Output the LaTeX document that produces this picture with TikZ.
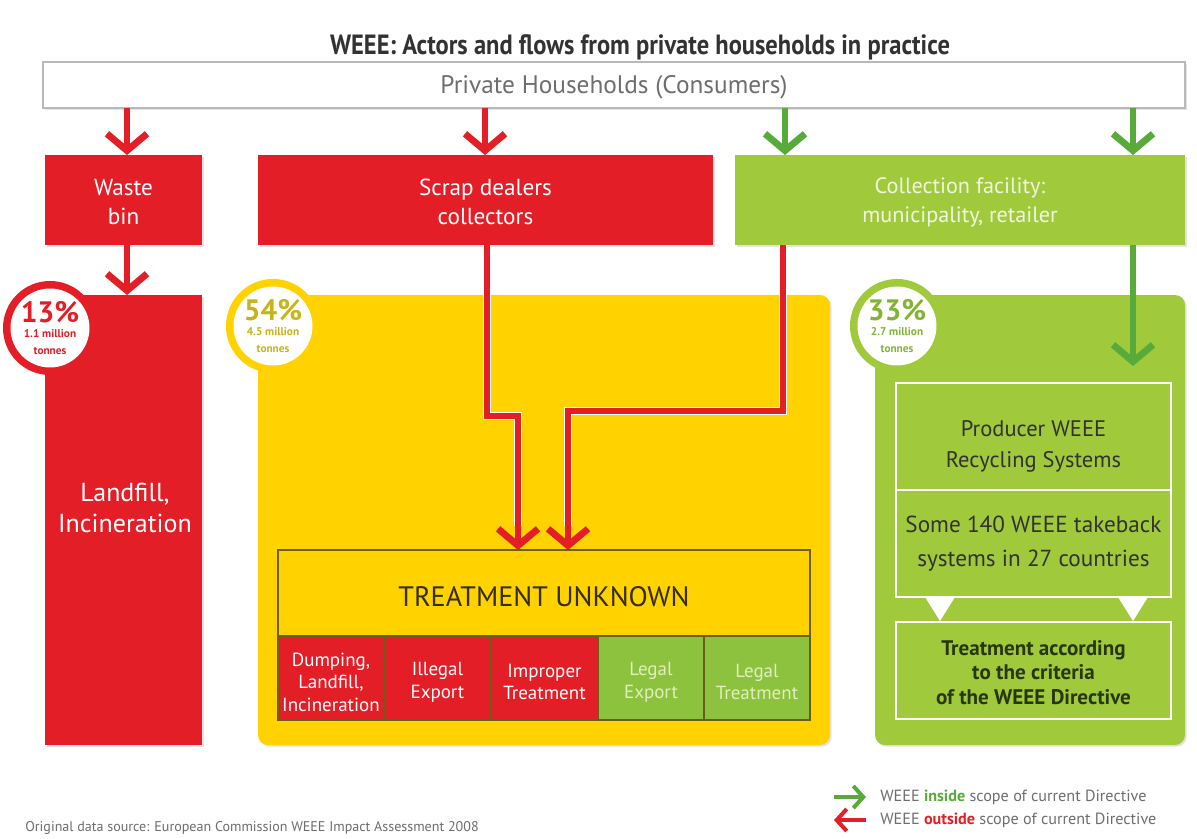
\documentclass[tikz,border=0pt]{standalone}
\usepackage{fontspec}
\setmainfont{PT Sans}
\newfontfamily\titlefont[FakeStretch=0.88]{PT Sans}
\usetikzlibrary{arrows.meta,fit,shadows}
\definecolor{myred}{RGB}{228,30,38}
\definecolor{myyellow}{RGB}{255,210,0}
\definecolor{mygreen}{RGB}{160,202,60}
\definecolor{cellgreen}{RGB}{140,194,62}
\definecolor{arrgreen}{RGB}{88,170,58}
\definecolor{olive}{RGB}{105,95,25}
\definecolor{darktext}{RGB}{50,50,50}
\definecolor{graytext}{RGB}{110,110,110}
\definecolor{pcyellow}{RGB}{200,180,20}
\definecolor{pcgreen}{RGB}{130,180,50}
\definecolor{lightgtext}{RGB}{225,238,190}
\definecolor{lightctext}{RGB}{240,246,225}
\newcommand{\fsz}[2]{\fontsize{#1}{#2}\selectfont}
\begin{document}
\begin{tikzpicture}[x=0.025cm,y=-0.025cm,
  shad/.style={drop shadow={shadow xshift=1.2pt,shadow yshift=-1.2pt,opacity=.22}},
  boxfit/.style={inner sep=0pt,outer sep=0pt},
  txt/.style={align=center,inner sep=0pt},
  redbox/.style={boxfit,fill=myred,shad},
  greenbox/.style={boxfit,fill=mygreen,shad},
  redarrow/.style={draw=myred,line width=0.15cm,-{Straight Barb[length=0.42cm,width=1.0cm,line width=0.17cm]}},
  greenarrow/.style={draw=arrgreen,line width=0.15cm,-{Straight Barb[length=0.42cm,width=1.0cm,line width=0.17cm]}},
  legarrow/.style={line width=0.09cm,-{Straight Barb[length=0.25cm,width=0.55cm,line width=0.1cm]}},
  cellred/.style={boxfit,fill=myred,draw=olive,line width=0.04cm},
  cellgr/.style={boxfit,fill=cellgreen,draw=olive,line width=0.04cm},
  wbox/.style={boxfit,draw=white,line width=0.06cm},
  celltxt/.style={txt,font=\fsz{13.5}{16}},
]
\useasboundingbox (0,0) rectangle (1197,838);
\fill[white] (0,0) rectangle (1197,838);

% title
\node[text=darktext,font=\titlefont\bfseries\fsz{19.8}{22}] (title) at (640,47) {WEEE: Actors and flows from private households in practice};

% households
\node[boxfit,fill=white,draw=gray!55,line width=0.04cm,shad,fit={(43,62)(1185,108)}] (hh) {};
\node[txt,text=graytext,font=\fsz{18}{20}] (hht) at ([yshift=-0.05cm]hh.center) {Private Households (Consumers)};

% second row
\node[redbox,fit={(45,155)(202,245)}] (waste) {};
\node[txt,text=white,font=\fsz{16.5}{20.5}] (wastet) at ([yshift=-0.05cm]waste.center) {Waste\\bin};
\node[redbox,fit={(258,155)(713,245)}] (scrap) {};
\node[txt,text=white,font=\fsz{16.5}{20.5}] (scrapt) at ([yshift=-0.05cm]scrap.center) {Scrap dealers\\collectors};
\node[greenbox,fit={(735,155)(1185,245)}] (coll) {};
\node[txt,text=lightctext,font=\fsz{15.8}{20.5}] (collt) at ([yshift=-0.05cm]coll.center) {Collection facility:\\municipality, retailer};

% big boxes
\node[redbox,fit={(45,295)(202,745)}] (land) {};
\node[boxfit,fill=myyellow,rounded corners=0.25cm,shad,fit={(258,295)(830,745)}] (yel) {};
\node[greenbox,rounded corners=0.25cm,fit={(875,295)(1185,745)}] (grn) {};
\node[txt,text=white,font=\fsz{18.5}{21.5}] (landtxt) at (125,508) {Landfill,\\Incineration};

% circles
\node[circle,fill=myred,minimum size=2.35cm,inner sep=0pt] (c13) at (50,328) {};
\node[circle,fill=white,minimum size=1.8cm,inner sep=0pt,align=center,text=myred] (c13t) at (c13) {{\bfseries\fsz{21}{19}13\%}\\[-1pt]{\bfseries\fsz{8}{8}1.1 million}\\{\bfseries\fsz{8}{8}tonnes}};
\node[circle,fill=myyellow,minimum size=2.35cm,inner sep=0pt] (c54) at (273,326) {};
\node[circle,fill=white,minimum size=1.8cm,inner sep=0pt,align=center,text=pcyellow] (c54t) at (c54) {{\bfseries\fsz{21}{19}54\%}\\[-1pt]{\bfseries\fsz{8}{8}4.5 million}\\{\bfseries\fsz{8}{8}tonnes}};
\node[circle,fill=mygreen,minimum size=2.35cm,inner sep=0pt] (c33) at (897,326) {};
\node[circle,fill=white,minimum size=1.8cm,inner sep=0pt,align=center,text=pcgreen] (c33t) at (c33) {{\bfseries\fsz{21}{19}33\%}\\[-1pt]{\bfseries\fsz{8}{8}2.7 million}\\{\bfseries\fsz{8}{8}tonnes}};

% treatment unknown
\node[boxfit,fill=myyellow,draw=olive,line width=0.04cm,fit={(278,550)(810,636)}] (tu) {};
\node[txt,text={rgb,255:red,55;green,45;blue,0},font=\fsz{20}{22}] (tut) at ([yshift=-0.08cm]tu.center) {TREATMENT UNKNOWN};
\node[cellred,fit={(278,636)(384,720)}] (k1) {};
\node[cellred,fit={(384,636)(491,720)}] (k2) {};
\node[cellred,fit={(491,636)(598,720)}] (k3) {};
\node[cellgr,fit={(598,636)(704,720)}] (k4) {};
\node[cellgr,fit={(704,636)(810,720)}] (k5) {};
\node[celltxt,text=white] (k1t) at ([yshift=-0.1cm]k1.center) {Dumping,\\Landfill,\\Incineration};
\node[celltxt,text=white] (k2t) at ([yshift=-0.1cm]k2.center) {Illegal\\Export};
\node[celltxt,text=white] (k3t) at ([yshift=-0.1cm]k3.center) {Improper\\Treatment};
\node[celltxt,text=lightgtext] (k4t) at ([yshift=-0.1cm]k4.center) {Legal\\Export};
\node[celltxt,text=lightgtext] (k5t) at ([yshift=-0.1cm]k5.center) {Legal\\Treatment};

% green internals
\node[wbox,fit={(896,383)(1171,490)}] (prod) {};
\node[txt,text=darktext,font=\fsz{16}{21.5}] (prodt) at ([yshift=-0.25cm]prod.center) {Producer WEEE\\Recycling Systems};
\node[wbox,fit={(896,490)(1171,597)}] (some) {};
\node[txt,text=darktext,font=\fsz{16.5}{24}] (somet) at (some.center) {Some 140 WEEE takeback\\systems in 27 countries};
\node[wbox,fit={(896,622)(1171,719)}] (crit) {};
\node[txt,text={rgb,255:red,40;green,55;blue,15},font=\bfseries\fsz{15}{17.4}] (critt) at ([yshift=-0.05cm]crit.center) {Treatment according\\to the criteria\\of the WEEE Directive};
\fill[white] (925,597) -- (955,597) -- (940,621) -- cycle;
\fill[white] (1118,597) -- (1148,597) -- (1133,621) -- cycle;

% arrows from households
\coordinate (x1) at (127,0);
\coordinate (x2) at (485,0);
\coordinate (x3) at (785,0);
\coordinate (x4) at (1133,0);
\draw[redarrow] (hh.south -| x1) -- (waste.north -| x1);
\draw[redarrow] (hh.south -| x2) -- (scrap.north -| x2);
\draw[greenarrow] (hh.south -| x3) -- (coll.north -| x3);
\draw[greenarrow] (hh.south -| x4) -- (coll.north -| x4);
\draw[redarrow] (waste.south -| x1) -- (land.north -| x1);

% flows into treatment unknown
\coordinate (b1) at (487,416);
\coordinate (b2) at (518,416);
\coordinate (b3) at (783,411);
\coordinate (b4) at (568,411);
\draw[white,line width=0.19cm,line join=miter] (scrap.south -| b1) -- (b1) -- (b2) -- ([yshift=0.6cm]b2 |- tu.north);
\draw[white,line width=0.19cm,line join=miter] (coll.south -| b3) -- (b3) -- (b4) -- ([yshift=0.6cm]b4 |- tu.north);
\draw[redarrow,line join=miter] (scrap.south -| b1) -- (b1) -- (b2) -- (b2 |- tu.north);
\draw[redarrow,line join=miter] (coll.south -| b3) -- (b3) -- (b4) -- (b4 |- tu.north);

% green arrow into recycling systems
\coordinate (g2) at (1133,366);
\draw[greenarrow] (coll.south -| g2) -- (g2);

% legend
\coordinate (l1a) at (834,797);
\coordinate (l1b) at (866,797);
\coordinate (l2a) at (866,820);
\coordinate (l2b) at (834,820);
\draw[legarrow,draw=arrgreen] (l1a) -- (l1b);
\draw[legarrow,draw=myred] (l2a) -- (l2b);
\node[anchor=west,text=graytext,font=\fsz{11.5}{12},inner sep=0pt] (leg1) at (880,797) {WEEE {\bfseries\color{arrgreen}inside} scope of current Directive};
\node[anchor=west,text=graytext,font=\fsz{11.5}{12},inner sep=0pt] (leg2) at (880,820) {WEEE {\bfseries\color{myred}outside} scope of current Directive};

% footer
\node[anchor=west,text=graytext,font=\fsz{10}{11},inner sep=0pt] (src) at (25,828) {Original data source: European Commission WEEE Impact Assessment 2008};
\end{tikzpicture}
\end{document}
